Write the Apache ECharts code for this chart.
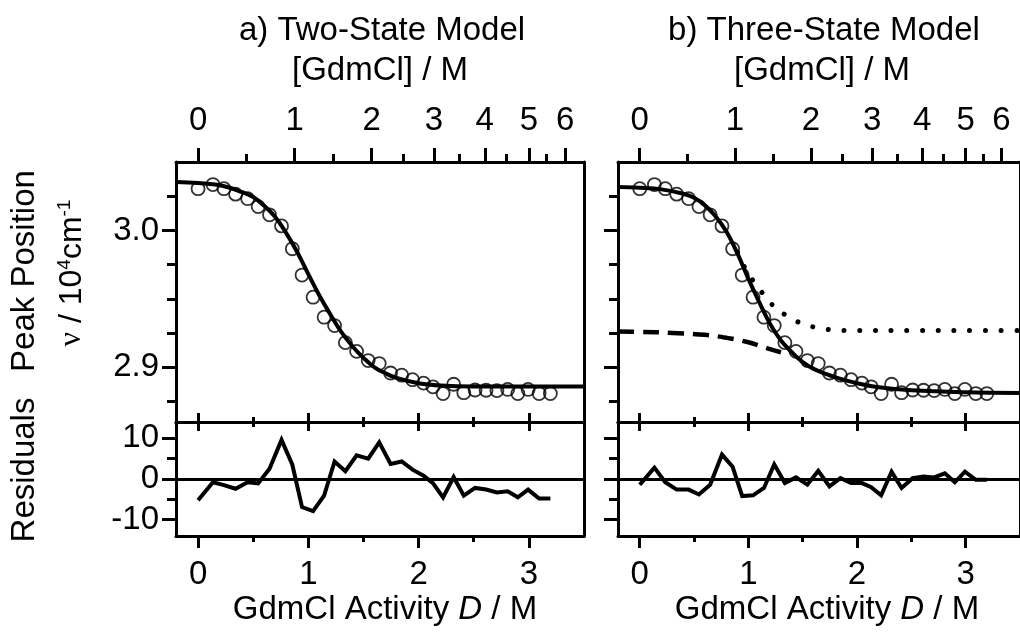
<!DOCTYPE html>
<html>
<head>
<meta charset="utf-8">
<script src="https://cdn.jsdelivr.net/npm/echarts@6/dist/echarts.min.js"></script>
<style>
  html, body { margin: 0; padding: 0; background: #fff; }
  #chart { width: 1020px; height: 634px; }
</style>
</head>
<body>
<div id="chart"></div>
<script>
// GdmCl activity D (M) for each titration point
const activity = [0, 0.135, 0.235, 0.34, 0.45, 0.545, 0.648, 0.757, 0.855, 0.943, 1.043,
  1.143, 1.238, 1.336, 1.438, 1.543, 1.643, 1.746, 1.847, 1.945, 2.045, 2.13, 2.222,
  2.318, 2.41, 2.512, 2.612, 2.71, 2.808, 2.9, 2.993, 3.093, 3.195];
// measured peak position (10^4 cm^-1)
const peakPos = [3.0305, 3.0335, 3.0305, 3.0265, 3.0232, 3.0174, 3.0114, 3.0033, 2.9866,
  2.9674, 2.9512, 2.9366, 2.9305, 2.9180, 2.9116, 2.9049, 2.9027, 2.8958, 2.8942, 2.8909,
  2.8884, 2.8857, 2.8808, 2.8876, 2.8814, 2.8834, 2.8832, 2.8830, 2.8838, 2.8808, 2.8838,
  2.8808, 2.8808];
// residuals (cm^-1) of the two fits
const residTwo = [-5.2, -0.8, -1.5, -2.4, -0.8, -1.1, 2.5, 9.6, 3.5, -6.9, -7.9, -4.1, 4.3,
  1.9, 5.8, 5.0, 9.0, 3.7, 4.3, 2.3, 0.8, -1.0, -4.5, 0.5, -4.1, -2.2, -2.6, -3.3, -3.0,
  -4.5, -2.6, -4.8, -4.8];
const residThree = [-1.4, 2.8, -0.8, -2.6, -2.6, -3.8, -1.4, 6.0, 3.0, -4.2, -4.0, -2.2, 3.6,
  -1.0, 0.4, -1.4, 2.0, -1.8, 0.2, -1.0, -1.0, -2.0, -4.0, 1.8, -2.2, 0.2, 0.6, 0.4, 1.4,
  -0.8, 1.8, -0.2, -0.2];
// fitted curves
const fitX = [-0.2, 0, 0.2, 0.4, 0.5, 0.6, 0.7, 0.8, 0.9, 1.0, 1.1, 1.2, 1.3, 1.4, 1.5, 1.6,
  1.7, 1.8, 2.0, 2.2, 2.5, 3.0, 3.5];
const fitTwo = [3.0354, 3.0346, 3.033, 3.028, 3.0244, 3.018, 3.0098, 2.998, 2.984, 2.968,
  2.9524, 2.9386, 2.9256, 2.9154, 2.9069, 2.900, 2.8956, 2.8922, 2.8883, 2.8866, 2.8859,
  2.8859, 2.8859];
const fitThree = [3.0317, 3.0312, 3.030, 3.0268, 3.0239, 3.0183, 3.0102, 2.9988, 2.983,
  2.9646, 2.9476, 2.9317, 2.9195, 2.911, 2.9037, 2.8988, 2.8956, 2.8927, 2.8883, 2.8854,
  2.8832, 2.8817, 2.8812];
// native -> intermediate component (dotted)
const interX = [0.9, 0.99, 1.09, 1.21, 1.35, 1.5, 1.64, 1.78, 2.0, 2.5, 3.0, 3.5];
const interY = [2.984, 2.9695, 2.9585, 2.9464, 2.9378, 2.9317, 2.9288, 2.9273, 2.9268,
  2.9268, 2.9268, 2.9268];
// intermediate -> unfolded component (dashed)
const unfoldX = [-0.2, 0, 0.3, 0.6, 0.8, 1.0, 1.1, 1.2, 1.3];
const unfoldY = [2.9261, 2.9259, 2.9251, 2.9237, 2.9215, 2.9183, 2.9159, 2.9132, 2.911];
// axis ticks
const activityTicks = [0, 1, 2, 3];
const activityMinor = [0.5, 1.5, 2.5];
const concLabels = ['0', '1', '2', '3', '4', '5', '6'];
const concTickPos = [0, 0.876, 1.575, 2.139, 2.6, 3.0, 3.33];   // activity of 0..6 M
const concMinorPos = [0.44, 1.225, 1.861, 2.372, 2.797, 3.16];   // activity of 0.5..5.5 M
const peakTicks = [2.9, 3.0];
const peakMinor = [2.875, 2.925, 2.95, 2.975, 3.025];
const residTicks = [-10, 0, 10];
const residMinor = [-5, 5];
const panelTitles = ['a) Two-State Model', 'b) Three-State Model'];

const FONT = '"Liberation Sans", Arial, Helvetica, sans-serif';
const INK = '#000';
const FS = 33;
const PANEL_LEFT = [176, 618];
const PW = 408, MAIN_TOP = 162, MAIN_H = 260, RES_H = 114;

const grids = [], xAxes = [], yAxes = [], series = [];

function xAxis(gridIndex, position, vals, len, inside, line, label) {
  xAxes.push({
    type: 'value', gridIndex, position, offset: 0, min: -0.2, max: 3.5,
    axisLine: { show: line, onZero: false, lineStyle: { color: INK, width: 3 } },
    axisTick: { show: true, inside, length: len, customValues: vals,
      lineStyle: { color: INK, width: 3 } },
    axisLabel: label ? Object.assign({ show: true, color: INK, fontSize: FS,
      fontFamily: FONT, customValues: vals }, label) : { show: false },
    splitLine: { show: false }
  });
  return xAxes.length - 1;
}
function yAxis(gridIndex, position, min, max, vals, len, line, label) {
  yAxes.push({
    type: 'value', gridIndex, position, offset: 0, min, max,
    axisLine: { show: line, onZero: false, lineStyle: { color: INK, width: 3 } },
    axisTick: { show: vals.length > 0, inside: false, length: len, customValues: vals,
      lineStyle: { color: INK, width: 3 } },
    axisLabel: label ? Object.assign({ show: true, color: INK, fontSize: FS,
      fontFamily: FONT, customValues: vals }, label) : { show: false },
    splitLine: { show: false }
  });
  return yAxes.length - 1;
}
const zip = (xs, ys) => xs.map((x, i) => [x, ys[i]]);

[0, 1].forEach(p => {
  const left = PANEL_LEFT[p];
  const gMain = grids.length;
  grids.push({ left, top: MAIN_TOP, width: PW, height: MAIN_H });
  const gRes = grids.length;
  grids.push({ left, top: MAIN_TOP + MAIN_H, width: PW, height: RES_H });

  // main panel axes
  const xm = xAxis(gMain, 'bottom', activityTicks, 9, true, true, null);
  xAxis(gMain, 'bottom', activityMinor, 5, true, false, null);
  xAxis(gMain, 'top', concTickPos, 14, false, true, {
    margin: 25,
    formatter: v => {
      let k = 0;
      concTickPos.forEach((c, i) => { if (Math.abs(c - v) < Math.abs(concTickPos[k] - v)) k = i; });
      return concLabels[k];
    }
  });
  xAxis(gMain, 'top', concMinorPos, 8, false, false, null);
  const ym = yAxis(gMain, 'left', 2.86, 3.05, peakTicks, 14, true,
    p === 0 ? { margin: 17, formatter: v => v.toFixed(1) } : null);
  yAxis(gMain, 'left', 2.86, 3.05, peakMinor, 9, false, null);
  yAxis(gMain, 'right', 2.86, 3.05, [], 0, true, null);

  // residual panel axes
  xAxis(gRes, 'top', activityTicks, 9, true, true, null);
  xAxis(gRes, 'top', activityMinor, 5, true, false, null);
  const xr = xAxis(gRes, 'bottom', activityTicks, 12, false, true, { margin: 22 });
  xAxis(gRes, 'bottom', activityMinor, 6, false, false, null);
  const yr = yAxis(gRes, 'left', -14, 14, residTicks, 14, true,
    p === 0 ? { margin: 17 } : null);
  yAxis(gRes, 'left', -14, 14, residMinor, 9, false, null);
  yAxis(gRes, 'right', -14, 14, [], 0, true, null);

  if (p === 1) {
    series.push({
      type: 'line', xAxisIndex: xm, yAxisIndex: ym, data: zip(unfoldX, unfoldY),
      showSymbol: false, smooth: 0.4, z: 3,
      lineStyle: { color: INK, width: 4.5, type: [16, 9] }
    });
    series.push({
      type: 'line', xAxisIndex: xm, yAxisIndex: ym, data: zip(interX, interY),
      showSymbol: false, smooth: 0.4, z: 3,
      lineStyle: { color: INK, width: 5, type: [0.01, 15.7], cap: 'round' }
    });
  }
  series.push({
    type: 'line', xAxisIndex: xm, yAxisIndex: ym,
    data: zip(fitX, p === 0 ? fitTwo : fitThree),
    showSymbol: false, smooth: 0.4, z: 4,
    lineStyle: { color: INK, width: 4 }
  });
  series.push({
    type: 'scatter', xAxisIndex: xm, yAxisIndex: ym, data: zip(activity, peakPos),
    symbol: 'circle', symbolSize: 13, z: 5,
    itemStyle: { color: 'rgba(0,0,0,0)', borderColor: INK, borderWidth: 1.8 }
  });
  series.push({
    type: 'line', xAxisIndex: xr, yAxisIndex: yr,
    data: zip(activity, p === 0 ? residTwo : residThree),
    showSymbol: false, z: 4,
    lineStyle: { color: INK, width: 4, join: 'miter' },
    markLine: {
      silent: true, symbol: 'none', label: { show: false },
      lineStyle: { color: INK, width: 3, type: 'solid' },
      data: [{ yAxis: 0 }]
    }
  });
});

function label(x, y, text, size, extra) {
  return {
    type: 'text', x, y,
    style: Object.assign({ text, fill: INK, font: size + 'px ' + FONT,
      align: 'center', verticalAlign: 'middle',
      textAlign: 'center', textVerticalAlign: 'middle' }, extra || {})
  };
}
const graphics = [];
[0, 1].forEach(p => {
  const cx = PANEL_LEFT[p] + 204;
  graphics.push(label(cx + 2, 31, panelTitles[p], FS));
  graphics.push(label(cx, 71, '[GdmCl] / M', FS));
  graphics.push(label(cx + 5, 610, '{n|GdmCl Activity }{i|D}{n| / M}', FS, {
    rich: {
      n: { fontSize: FS, fontFamily: FONT, fill: INK },
      i: { fontSize: FS, fontFamily: FONT, fontStyle: 'italic', fill: INK }
    }
  }));
});
const rot = Math.PI / 2;
graphics.push(Object.assign(label(25, 271, 'Peak Position', FS), { rotation: rot }));
graphics.push(Object.assign(label(25, 470, 'Residuals', FS), { rotation: rot }));
graphics.push(Object.assign(label(72, 273, '{nu|ν}{n| / 10}{s|4}{n|cm}{s|-1}', FS, {
  rich: {
    nu: { fontSize: 32, fontFamily: '"Liberation Serif", "DejaVu Serif", serif', fill: INK },
    n: { fontSize: 32, fontFamily: FONT, fill: INK },
    s: { fontSize: 19, fontFamily: FONT, fill: INK, verticalAlign: 'top', lineHeight: 34 }
  }
}), { rotation: rot }));

const chart = echarts.init(document.getElementById('chart'), null, { renderer: 'canvas' });
chart.setOption({
  animation: false,
  backgroundColor: '#fff',
  grid: grids,
  xAxis: xAxes,
  yAxis: yAxes,
  series: series,
  graphic: graphics
});
</script>
</body>
</html>
